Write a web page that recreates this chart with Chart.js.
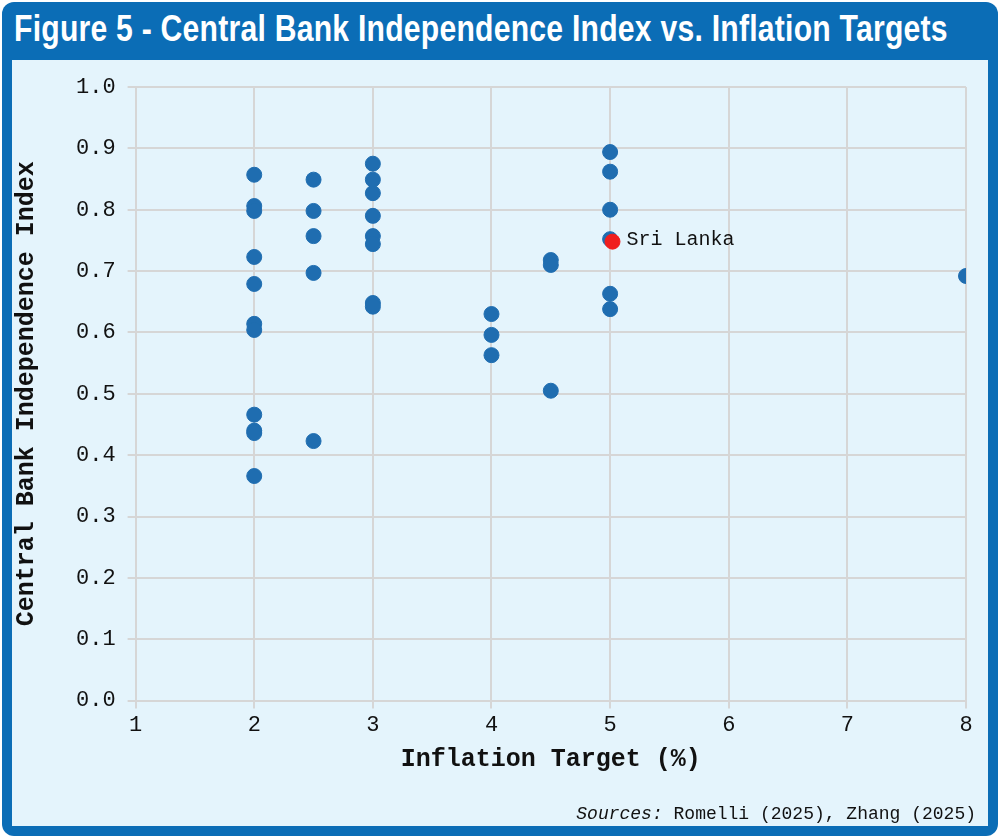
<!DOCTYPE html>
<html>
<head>
<meta charset="utf-8">
<script src="https://cdn.jsdelivr.net/npm/chart.js@4"></script>
<style>
  html, body { margin: 0; padding: 0; }
  body { width: 1000px; height: 838px; background: #ffffff; position: relative; overflow: hidden; }
  #frame { position: absolute; left: 2px; top: 2px; width: 996px; height: 834px; background: #0b6db6; border-radius: 12px; }
  #title { position: absolute; left: 14px; top: 8px; font-family: "Liberation Sans Narrow", "Liberation Sans", sans-serif; font-weight: bold; font-size: 37px; color: #ffffff; letter-spacing: 0.3px; transform: scaleX(0.814); transform-origin: left top; white-space: nowrap; }
  #panel { position: absolute; left: 12px; top: 60px; width: 976px; height: 766px; background: #e4f4fc; }
  #source { position: absolute; right: 24px; bottom: 14px; font-family: "Liberation Mono", monospace; font-size: 18px; color: #111; }
</style>
</head>
<body>
<div id="frame"></div>
<div id="title">Figure 5 - Central Bank Independence Index vs. Inflation Targets</div>
<div id="panel"><canvas id="chart" width="976" height="766"></canvas></div>
<div id="source"><i>Sources:</i> Romelli (2025), Zhang (2025)</div>
<script>
// inflation target (%) and independence index for each country
const targets = [2, 2, 2, 2, 2, 2, 2, 2, 2, 2, 2,
                 2.5, 2.5, 2.5, 2.5, 2.5,
                 3, 3, 3, 3, 3, 3, 3, 3,
                 4, 4, 4,
                 4.5, 4.5, 4.5,
                 5, 5, 5, 5, 5, 5,
                 8];
const cbiValues = [0.857, 0.806, 0.798, 0.723, 0.679, 0.614, 0.604, 0.466, 0.440, 0.436, 0.366,
                   0.849, 0.798, 0.757, 0.697, 0.423,
                   0.875, 0.849, 0.827, 0.790, 0.757, 0.744, 0.648, 0.642,
                   0.630, 0.596, 0.563,
                   0.718, 0.710, 0.505,
                   0.894, 0.862, 0.800, 0.752, 0.663, 0.638,
                   0.692];
const sriLankaTarget = [5.02];
const sriLankaValue = [0.748];
const sriLankaLabel = 'Sri Lanka';

const monoFont = '"Liberation Mono", "DejaVu Sans Mono", monospace';

const labelPlugin = {
    id: 'sriLankaLabel',
    afterDatasetsDraw(chart) {
        const meta = chart.getDatasetMeta(1);
        const pt = meta.data[0];
        if (!pt) return;
        const c = chart.ctx;
        c.save();
        c.font = '20px ' + monoFont;
        c.fillStyle = '#111';
        c.textBaseline = 'middle';
        c.fillText(sriLankaLabel, pt.x + 14, pt.y - 2);
        c.restore();
    }
};

new Chart(document.getElementById('chart').getContext('2d'), {
    type: 'scatter',
    data: {
        datasets: [{
            data: targets.map((t, i) => ({ x: t, y: cbiValues[i] })),
            backgroundColor: '#1f6db0',
            borderColor: '#1f6db0',
            pointRadius: 7.5,
            order: 2
        }, {
            data: sriLankaTarget.map((t, i) => ({ x: t, y: sriLankaValue[i] })),
            backgroundColor: '#f01e1e',
            borderColor: '#f01e1e',
            pointRadius: 7.5,
            order: 1
        }]
    },
    options: {
        responsive: false,
        animation: false,
        layout: { padding: { top: 27, right: 22, bottom: 47, left: 0 } },
        plugins: { legend: { display: false }, tooltip: { enabled: false } },
        scales: {
            x: {
                min: 1, max: 8,
                ticks: { stepSize: 1, color: '#111', font: { family: monoFont, size: 22 } },
                grid: { color: '#d6d6d6', lineWidth: 2 },
                border: { color: '#d6d6d6', width: 2 },
                title: { display: true, text: 'Inflation Target (%)', color: '#111', padding: { top: 4 }, font: { family: monoFont, size: 25, weight: 'bold' } }
            },
            y: {
                min: 0, max: 1,
                ticks: { stepSize: 0.1, color: '#111', padding: 12, font: { family: monoFont, size: 22 }, callback: v => v.toFixed(1) },
                grid: { color: '#d6d6d6', lineWidth: 2 },
                border: { color: '#d6d6d6', width: 2 },
                title: { display: true, text: 'Central Bank Independence Index', color: '#111', padding: { top: 0, bottom: 22 }, font: { family: monoFont, size: 25, weight: 'bold' } }
            }
        }
    },
    plugins: [labelPlugin]
});
</script>
</body>
</html>
